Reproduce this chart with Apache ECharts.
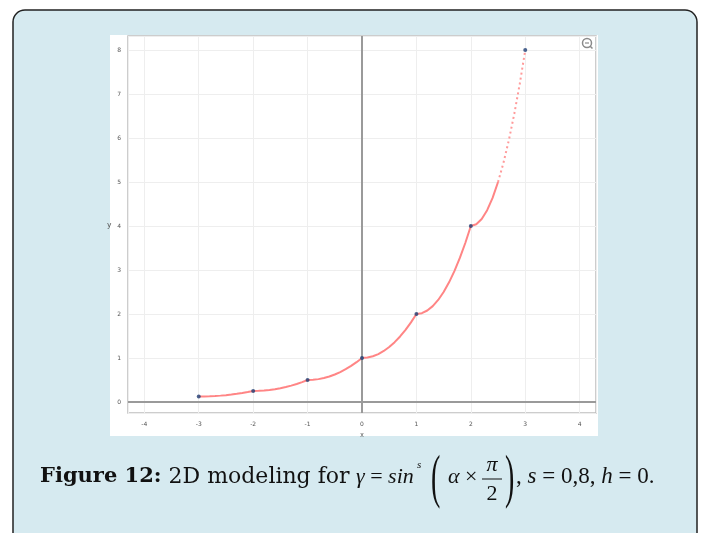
<!DOCTYPE html>
<html>
<head>
<meta charset="utf-8">
<title>Figure 12</title>
<script src="https://cdn.jsdelivr.net/npm/echarts@6/dist/echarts.min.js"></script>
<style>
  html, body { margin: 0; padding: 0; background: #fff; }
  #main { width: 702px; height: 533px; }
</style>
</head>
<body>
<div id="main"></div>
<script>
// marked points of the model
var pointX = [-3, -2, -1, 0, 1, 2, 3];
var pointY = [0.125, 0.25, 0.5, 1, 2, 4, 8];

// red curve (step 0.1)
var curveX = [
  -3, -2.9, -2.8, -2.7, -2.6, -2.5, -2.4, -2.3, -2.2, -2.1,
  -2, -1.9, -1.8, -1.7, -1.6, -1.5, -1.4, -1.3, -1.2, -1.1,
  -1, -0.9, -0.8, -0.7, -0.6, -0.5, -0.4, -0.3, -0.2, -0.1,
  0, 0.1, 0.2, 0.3, 0.4, 0.5, 0.6, 0.7, 0.8, 0.9,
  1, 1.1, 1.2, 1.3, 1.4, 1.5, 1.6, 1.7, 1.8, 1.9,
  2, 2.1, 2.2, 2.3, 2.4, 2.5, 2.6, 2.7, 2.8, 2.9, 3
];
var curveY = [
  0.125, 0.126, 0.13, 0.136, 0.145, 0.156, 0.17, 0.186, 0.205, 0.226,
  0.25, 0.253, 0.26, 0.273, 0.29, 0.313, 0.34, 0.373, 0.41, 0.453,
  0.5, 0.505, 0.52, 0.545, 0.58, 0.625, 0.68, 0.745, 0.82, 0.905,
  1, 1.01, 1.04, 1.09, 1.16, 1.25, 1.36, 1.49, 1.64, 1.81,
  2, 2.02, 2.08, 2.18, 2.32, 2.5, 2.72, 2.98, 3.28, 3.62,
  4, 4.04, 4.16, 4.36, 4.64, 5.0, 5.44, 5.96, 6.56, 7.24, 8
];
// beyond this x the curve is drawn dotted
var dottedFrom = 2.5;

var solidPart = [];
var dottedPart = [];
curveX.forEach(function (x, i) {
  if (x <= dottedFrom) solidPart.push([x, curveY[i]]);
  if (x >= dottedFrom) dottedPart.push([x, curveY[i]]);
});
var points = pointX.map(function (x, i) { return [x, pointY[i]]; });

var chart = echarts.init(document.getElementById('main'));

var labelStyle = { fontSize: 6, color: '#555', fontFamily: 'DejaVu Sans' };

var option = {
  backgroundColor: '#fff',
  animation: false,
  grid: {
    left: 128, top: 36, width: 468, height: 377,
    show: true,
    borderColor: '#bdbdbd',
    borderWidth: 1.5,
    backgroundColor: 'transparent'
  },
  xAxis: {
    type: 'value',
    min: -4.3, max: 4.3,
    minInterval: 1, maxInterval: 1,
    name: 'x',
    nameLocation: 'middle',
    nameGap: 16,
    nameTextStyle: { fontSize: 7, color: '#555' },
    axisLine: { show: false },
    axisTick: { show: false },
    axisLabel: Object.assign({ margin: 8, showMinLabel: false, showMaxLabel: false }, labelStyle),
    splitLine: { show: true, lineStyle: { color: '#eeeeee', width: 1 } }
  },
  yAxis: {
    type: 'value',
    min: -0.25, max: 8.32,
    minInterval: 1, maxInterval: 1,
    name: 'y',
    nameLocation: 'middle',
    nameRotate: 0,
    nameGap: 13,
    nameTextStyle: { fontSize: 8, color: '#555' },
    axisLine: { show: false },
    axisTick: { show: false },
    axisLabel: Object.assign({ margin: 7, showMinLabel: false, showMaxLabel: false }, labelStyle),
    splitLine: { show: true, lineStyle: { color: '#eeeeee', width: 1 } }
  },
  series: [
    {
      name: 'curve',
      type: 'line',
      data: solidPart,
      showSymbol: false,
      symbol: 'none',
      z: 3,
      lineStyle: { color: '#ff8585', width: 2 },
      markLine: {
        silent: true,
        symbol: 'none',
        label: { show: false },
        lineStyle: { color: '#9a9a9a', width: 2, type: 'solid' },
        data: [{ xAxis: 0 }, { yAxis: 0 }]
      }
    },
    {
      name: 'curve top',
      type: 'line',
      data: dottedPart,
      symbol: 'none',
      z: 3,
      lineStyle: { color: '#ff9a9a', width: 2, type: [2, 3] }
    },
    {
      name: 'points',
      type: 'scatter',
      data: points,
      symbol: 'circle',
      symbolSize: 4,
      z: 5,
      itemStyle: { color: '#1f3d73' }
    }
  ],
  graphic: [
    // light blue frame
    {
      type: 'rect', z: -20,
      shape: { x: 13, y: 10, width: 684, height: 560, r: 12 },
      style: { fill: '#d6eaf0', stroke: '#222', lineWidth: 1.5 }
    },
    // white picture panel
    {
      type: 'rect', z: -19,
      shape: { x: 110, y: 35, width: 488, height: 401 },
      style: { fill: '#ffffff' }
    },
    // zoom-out icon
    {
      type: 'circle', z: 10,
      shape: { cx: 587, cy: 43, r: 4.5 },
      style: { fill: 'none', stroke: '#8a8a8a', lineWidth: 1.5 }
    },
    {
      type: 'line', z: 10,
      shape: { x1: 585, y1: 43, x2: 589, y2: 43 },
      style: { stroke: '#8a8a8a', lineWidth: 1.2 }
    },
    {
      type: 'line', z: 10,
      shape: { x1: 590, y1: 46, x2: 592.5, y2: 48.5 },
      style: { stroke: '#8a8a8a', lineWidth: 1.5 }
    },
    // caption
    {
      type: 'text', z: 10, x: 40, y: 477,
      style: {
        text: '{b|Figure 12:} 2D modeling for',
        fontFamily: 'DejaVu Serif', fontSize: 22, fill: '#111',
        verticalAlign: 'middle',
        rich: { b: { fontFamily: 'DejaVu Serif', fontWeight: 'bold', fontSize: 21, fill: '#111' } }
      }
    },
    {
      type: 'text', z: 10, x: 356, y: 477,
      style: {
        text: '{i|γ} = {i|sin}',
        fontFamily: 'Liberation Serif', fontSize: 22, fill: '#111',
        verticalAlign: 'middle',
        rich: { i: { fontFamily: 'Liberation Serif', fontStyle: 'italic', fontSize: 22, fill: '#111' } }
      }
    },
    {
      type: 'text', z: 10, x: 417, y: 465,
      style: { text: 's', fontFamily: 'Liberation Serif', fontStyle: 'italic', fontSize: 11, fill: '#111', verticalAlign: 'middle' }
    },
    {
      type: 'text', z: 10, x: 431, y: 481, scaleY: 2.1,
      style: { text: '(', fontFamily: 'Liberation Serif', fontSize: 28, fill: '#111', verticalAlign: 'middle' }
    },
    {
      type: 'text', z: 10, x: 448, y: 477,
      style: {
        text: '{i|α} ×',
        fontFamily: 'Liberation Serif', fontSize: 22, fill: '#111',
        verticalAlign: 'middle',
        rich: { i: { fontFamily: 'Liberation Serif', fontStyle: 'italic', fontSize: 22, fill: '#111' } }
      }
    },
    {
      type: 'text', z: 10, x: 492, y: 465,
      style: { text: 'π', fontFamily: 'Liberation Serif', fontStyle: 'italic', fontSize: 22, fill: '#111', align: 'center', verticalAlign: 'middle' }
    },
    {
      type: 'line', z: 10,
      shape: { x1: 482, y1: 479, x2: 502, y2: 479 },
      style: { stroke: '#111', lineWidth: 1 }
    },
    {
      type: 'text', z: 10, x: 492, y: 494,
      style: { text: '2', fontFamily: 'Liberation Serif', fontSize: 22, fill: '#111', align: 'center', verticalAlign: 'middle' }
    },
    {
      type: 'text', z: 10, x: 505, y: 481, scaleY: 2.1,
      style: { text: ')', fontFamily: 'Liberation Serif', fontSize: 28, fill: '#111', verticalAlign: 'middle' }
    },
    {
      type: 'text', z: 10, x: 516, y: 477,
      style: {
        text: ', {i|s} = 0,8, {i|h} = 0.',
        fontFamily: 'Liberation Serif', fontSize: 23, fill: '#111',
        verticalAlign: 'middle',
        rich: { i: { fontFamily: 'Liberation Serif', fontStyle: 'italic', fontSize: 23, fill: '#111' } }
      }
    }
  ]
};

chart.setOption(option);
</script>
</body>
</html>
